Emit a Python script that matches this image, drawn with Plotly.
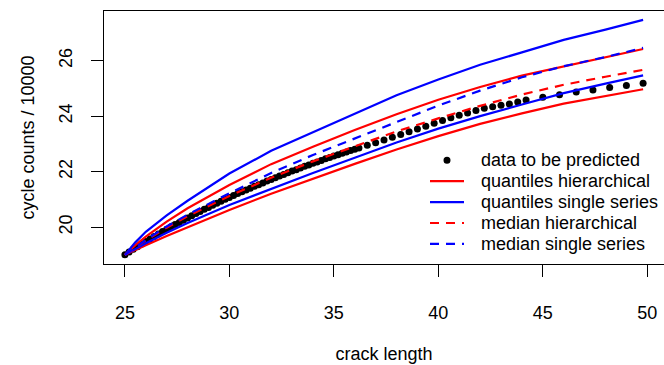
import plotly.graph_objects as go

# ---- data ----
crack_length = [
    25.0, 25.2, 25.4, 25.6, 25.8, 26.0, 26.2, 26.4, 26.6, 26.8,
    27.0, 27.2, 27.4, 27.6, 27.8, 28.0, 28.2, 28.4, 28.6, 28.8,
    29.0, 29.2, 29.4, 29.6, 29.8, 30.0, 30.2, 30.4, 30.6, 30.8,
    31.0, 31.2, 31.4, 31.6, 31.8, 32.0, 32.2, 32.4, 32.6, 32.8,
    33.0, 33.2, 33.4, 33.6, 33.8, 34.0, 34.2, 34.4, 34.6, 34.8,
    35.0, 35.2, 35.4, 35.6, 35.8, 36.0, 36.2,
    36.6, 37.0, 37.4, 37.8, 38.2, 38.6, 39.0, 39.4, 39.8, 40.2,
    40.6, 41.0, 41.4, 41.8, 42.2, 42.6, 43.0, 43.4, 43.8, 44.2,
    45.0, 45.8, 46.6, 47.4, 48.2, 49.0, 49.8,
]
cycles_observed = [
    19.00, 19.10, 19.20, 19.29, 19.39, 19.48, 19.57, 19.66, 19.75, 19.84,
    19.92, 20.01, 20.09, 20.17, 20.25, 20.33, 20.41, 20.49, 20.56, 20.64,
    20.71, 20.79, 20.86, 20.93, 21.00, 21.07, 21.14, 21.21, 21.27, 21.34,
    21.40, 21.47, 21.53, 21.59, 21.66, 21.72, 21.78, 21.84, 21.90, 21.96,
    22.02, 22.07, 22.13, 22.19, 22.24, 22.30, 22.35, 22.40, 22.46, 22.51,
    22.56, 22.61, 22.66, 22.71, 22.76, 22.81, 22.85,
    22.95, 23.04, 23.14, 23.24, 23.34, 23.44, 23.54, 23.64, 23.74, 23.84,
    23.94, 24.03, 24.11, 24.20, 24.28, 24.34, 24.39, 24.44, 24.51, 24.58,
    24.68, 24.77, 24.87, 24.94, 25.03, 25.10, 25.19,
]

line_x = [25, 25.5, 26, 27, 28, 30, 32, 34, 36, 38, 40, 42, 44, 46, 48, 49.8]
q_hier_lo = [19.0, 19.18, 19.35, 19.68, 20.00, 20.62, 21.20, 21.75, 22.28, 22.80, 23.28, 23.72, 24.10, 24.45, 24.73, 24.97]
q_hier_hi = [19.0, 19.35, 19.66, 20.20, 20.68, 21.52, 22.27, 22.90, 23.50, 24.07, 24.59, 25.05, 25.46, 25.80, 26.12, 26.42]
q_single_lo = [19.0, 19.22, 19.42, 19.80, 20.15, 20.80, 21.38, 21.95, 22.50, 23.05, 23.55, 24.00, 24.42, 24.83, 25.17, 25.47]
q_single_hi = [19.0, 19.45, 19.83, 20.42, 20.95, 21.93, 22.75, 23.42, 24.08, 24.75, 25.32, 25.85, 26.30, 26.75, 27.12, 27.47]
med_hier = [19.0, 19.27, 19.52, 19.98, 20.39, 21.12, 21.78, 22.37, 22.92, 23.45, 23.92, 24.37, 24.78, 25.13, 25.42, 25.67]
med_single = [19.0, 19.28, 19.54, 20.02, 20.45, 21.22, 21.95, 22.60, 23.20, 23.80, 24.38, 24.92, 25.40, 25.80, 26.13, 26.46]

x_ticks = [25, 30, 35, 40, 45, 50]
y_ticks = [20, 22, 24, 26]
legend_labels = ["data to be predicted", "quantiles hierarchical", "quantiles single series",
                 "median hierarchical", "median single series"]

RED = "#FF0000"
BLUE = "#0000FF"
FONT = "Liberation Sans, Arial, Helvetica, sans-serif"
FS = 18
LW = 2.2
DASH = "9px,7px"

# figure geometry (pixels)
W, H = 664, 365
ML, MR, MT, MB = 104, 0, 11, 101
PW, PH = W - ML - MR, H - MT - MB


def px_x(p):
    return (p - ML) / PW


def px_y(p):
    return (H - MB - p) / PH


fig = go.Figure()
fig.add_trace(go.Scatter(x=crack_length, y=cycles_observed, mode="markers",
                         marker=dict(color="black", size=7, line=dict(width=0)),
                         name=legend_labels[0]))
fig.add_trace(go.Scatter(x=line_x, y=q_hier_lo, mode="lines", line=dict(color=RED, width=LW),
                         name=legend_labels[1]))
fig.add_trace(go.Scatter(x=line_x, y=q_hier_hi, mode="lines", line=dict(color=RED, width=LW),
                         name=legend_labels[1]))
fig.add_trace(go.Scatter(x=line_x, y=q_single_lo, mode="lines", line=dict(color=BLUE, width=LW),
                         name=legend_labels[2]))
fig.add_trace(go.Scatter(x=line_x, y=q_single_hi, mode="lines", line=dict(color=BLUE, width=LW),
                         name=legend_labels[2]))
fig.add_trace(go.Scatter(x=line_x, y=med_hier, mode="lines", line=dict(color=RED, width=LW, dash=DASH),
                         name=legend_labels[3]))
fig.add_trace(go.Scatter(x=line_x, y=med_single, mode="lines", line=dict(color=BLUE, width=LW, dash=DASH),
                         name=legend_labels[4]))

# ---- legend (drawn like R's legend(): key samples + text, no box) ----
leg_rows = [160.3, 181.2, 202.1, 223.0, 243.9]
leg_styles = [None, (RED, "solid"), (BLUE, "solid"), (RED, DASH), (BLUE, DASH)]
key_x0, key_x1, text_x = 430, 464, 479
shapes = []
annotations = []
for label, row, style in zip(legend_labels, leg_rows, leg_styles):
    if style is None:
        shapes.append(dict(type="circle", xref="paper", yref="paper",
                           xsizemode="pixel", ysizemode="pixel",
                           xanchor=px_x((key_x0 + key_x1) / 2), yanchor=px_y(row),
                           x0=-3.5, x1=3.5, y0=-3.5, y1=3.5,
                           fillcolor="black", line=dict(width=0)))
    else:
        color, dash = style
        shapes.append(dict(type="line", xref="paper", yref="paper",
                           x0=px_x(key_x0), x1=px_x(key_x1), y0=px_y(row), y1=px_y(row),
                           line=dict(color=color, width=LW, dash=dash)))
    annotations.append(dict(text=label, xref="paper", yref="paper",
                            x=px_x(text_x), y=px_y(row), xanchor="left", yanchor="middle",
                            showarrow=False, font=dict(family=FONT, size=FS, color="black")))

axis_common = dict(showgrid=False, zeroline=False, showline=True, linecolor="black", linewidth=1,
                   ticks="outside", tickcolor="black", tickwidth=1, ticklen=12,
                   tickfont=dict(family=FONT, size=FS, color="black"))

fig.update_layout(
    width=W, height=H,
    margin=dict(l=ML, r=MR, t=MT, b=MB, autoexpand=False),
    paper_bgcolor="white", plot_bgcolor="white",
    font=dict(family=FONT, size=FS, color="black"),
    showlegend=False,
    shapes=shapes,
    annotations=annotations,
    xaxis=dict(range=[24, 50.8], tickvals=x_ticks, mirror=True, ticklabelstandoff=20,
               title=dict(text="crack length", font=dict(family=FONT, size=FS), standoff=25),
               **axis_common),
    yaxis=dict(range=[18.67, 27.79], tickvals=y_ticks, tickangle=-90, ticklabelstandoff=12,
               title=dict(text="cycle counts / 10000", font=dict(family=FONT, size=FS), standoff=16),
               **axis_common),
)

fig.write_html("out.html")
